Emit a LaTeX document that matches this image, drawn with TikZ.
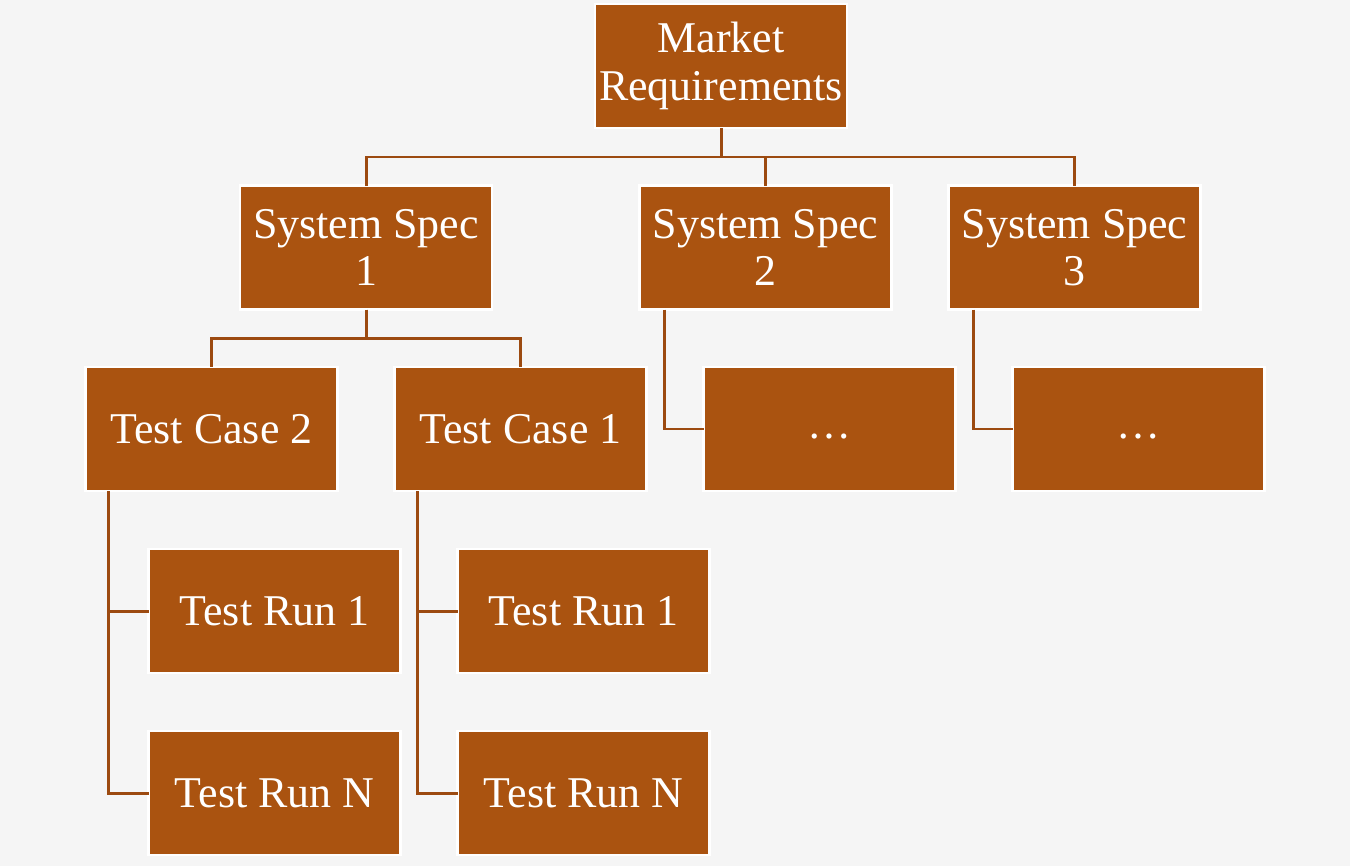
\documentclass[tikz,border=0pt]{standalone}
\usepackage{fontspec}
\setmainfont{Liberation Serif}
\usetikzlibrary{positioning}
\definecolor{boxbrown}{HTML}{AA5310}
\definecolor{linebrown}{HTML}{9C4A10}
\definecolor{paper}{HTML}{F5F5F5}

\begin{document}
\begin{tikzpicture}[node distance = 1.16cm and 1.14cm,
		box/.style = {fill=boxbrown, draw=white, line width=1.5pt, text=white,
			minimum width=5.04cm, minimum height=2.48cm, inner sep=0pt, outer sep=0pt,
			align=center, font=\fontsize{25}{27}\selectfont},
		link/.style = {draw=linebrown, line width=1.7pt}]
		\fill[paper] (0,0) rectangle (27,-17.32);
		\node[box] (TC2) at (4.23,-8.58) {Test Case 2};
		\node[box, right = of TC2] (TC1) {Test Case 1};
		\node[box, right = of TC1] (D1) {\vphantom{Tp}\dots};
		\node[box, right = of D1] (D2) {\vphantom{Tp}\dots};
		\node[box] (SS1) at (7.32,-4.95) {System Spec\\1};
		\node[box] (SS2) at (15.31,-4.95) {System Spec\\2};
		\node[box, right = of SS2] (SS3) {System Spec\\3};
		\node[box] (MR) at (14.42,-1.32) {Market\\Requirements};
		\node[box, below = of TC2, xshift=1.26cm] (TR1a) {Test Run 1};
		\node[box, below = of TR1a] (TRNa) {Test Run N};
		\node[box, below = of TC1, xshift=1.26cm] (TR1b) {Test Run 1};
		\node[box, below = of TR1b] (TRNb) {Test Run N};
		\draw[link] (MR.south) -- ++(0,-0.58) -| (SS1.north);
		\draw[link] (MR.south) -- ++(0,-0.58) -| (SS2.north);
		\draw[link] (MR.south) -- ++(0,-0.58) -| (SS3.north);
		\draw[link] (SS1.south) -- ++(0,-0.58) -| (TC2.north);
		\draw[link] (SS1.south) -- ++(0,-0.58) -| (TC1.north);
		\draw[link] ([xshift=0.5cm]SS2.south west) |- (D1.west);
		\draw[link] ([xshift=0.5cm]SS3.south west) |- (D2.west);
		\draw[link] ([xshift=0.46cm]TC2.south west) |- (TR1a.west);
		\draw[link] ([xshift=0.46cm]TC2.south west) |- (TRNa.west);
		\draw[link] ([xshift=0.46cm]TC1.south west) |- (TR1b.west);
		\draw[link] ([xshift=0.46cm]TC1.south west) |- (TRNb.west);
	\end{tikzpicture}
\end{document}
